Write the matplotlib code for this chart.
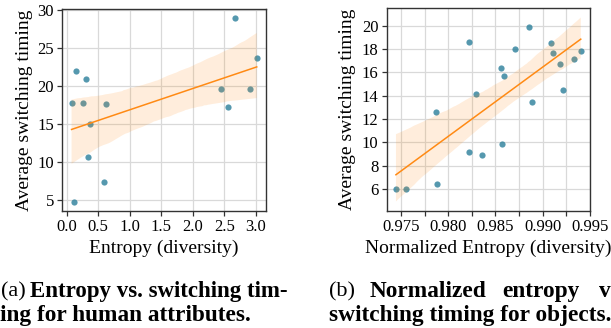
import numpy as np
import matplotlib
matplotlib.use("Agg")
import matplotlib.pyplot as plt
import seaborn as sns

# (a) human attributes: entropy vs. average switching timing
entropy_a = [0.079, 0.153, 0.31, 0.254, 0.623, 0.375, 0.333, 0.592, 0.116,
             2.678, 3.016, 2.445, 2.916, 2.556]
timing_a = [17.8, 22.0, 20.96, 17.8, 17.68, 15.06, 10.77, 7.37, 4.84,
            28.95, 23.75, 19.69, 19.69, 17.33]

# (b) objects: normalized entropy vs. average switching timing
entropy_b = [0.97447, 0.97553, 0.97883, 0.97873, 0.98225, 0.98225, 0.98359, 0.98295,
             0.98570, 0.98556, 0.98594, 0.98704, 0.98852, 0.98884, 0.99091, 0.99116,
             0.99183, 0.99215, 0.99338, 0.99405]
timing_b = [6.0, 6.05, 6.45, 12.63, 18.57, 9.18, 8.95, 14.18,
            9.84, 16.38, 15.73, 18.02, 19.91, 13.43, 18.54, 17.67,
            16.76, 14.49, 17.13, 17.80]

xticks_a = [0.0, 0.5, 1.0, 1.5, 2.0, 2.5, 3.0]
yticks_a = [5, 10, 15, 20, 25, 30]
xticks_b = [0.975, 0.9775, 0.980, 0.9825, 0.985, 0.9875, 0.990, 0.9925, 0.995]
xlabels_b = ["0.975", "", "0.980", "", "0.985", "", "0.990", "", "0.995"]
yticks_b = [6, 8, 10, 12, 14, 16, 18, 20]

teal = "#2a7f9a"
orange = "#ff8a14"
serif = ["Liberation Serif", "DejaVu Serif"]

plt.rcParams["font.family"] = serif

W, H = 611, 328
fig = plt.figure(figsize=(W / 100, H / 100), dpi=100)


def px_axes(l, t, r, b):
    return fig.add_axes([l / W, 1 - b / H, (r - l) / W, (b - t) / H])


def style(ax):
    ax.grid(True, color="#d9d9d9", lw=0.9)
    ax.set_axisbelow(True)
    for s in ax.spines.values():
        s.set_color("#333333")
        s.set_linewidth(1.0)
    ax.tick_params(direction="out", length=3.5, width=0.9, color="#333333",
                   labelsize=12, pad=2.5)


ax1 = px_axes(62.3, 9.3, 266, 210.7)
sns.regplot(x=np.array(entropy_a), y=np.array(timing_a), ax=ax1, seed=0,
            scatter_kws=dict(color=teal, s=20, linewidths=0),
            line_kws=dict(color=orange, lw=1.1))
ax1.set_xticks(xticks_a)
ax1.set_yticks(yticks_a)
ax1.set_xlabel("Entropy (diversity)", fontsize=14, labelpad=3)
ax1.set_ylabel("Average switching timing", fontsize=14, labelpad=3)
style(ax1)

ax2 = px_axes(386.7, 8.3, 590, 210.7)
sns.regplot(x=np.array(entropy_b), y=np.array(timing_b), ax=ax2, seed=0,
            scatter_kws=dict(color=teal, s=20, linewidths=0),
            line_kws=dict(color=orange, lw=1.1))
ax2.set_xticks(xticks_b)
ax2.set_xticklabels(xlabels_b)
ax2.set_yticks(yticks_b)
ax2.set_xlabel("Normalized Entropy (diversity)", fontsize=14, labelpad=3)
ax2.set_ylabel("Average switching timing", fontsize=14, labelpad=4)
style(ax2)


# captions (cropped from the paper page, so they run off the edges)
def cap(x, y, s, bold=True, size=16.8):
    fig.text(x / W, 1 - y / H, s, fontsize=size, va="baseline", ha="left",
             fontweight="bold" if bold else "normal")


cap(0.5, 296.7, "(a)", bold=False, size=16)
cap(29.8, 296.7, "Entropy vs. switching tim-", size=16.5)
cap(0.5, 320.7, "ing for human attributes.")
cap(328.7, 296.7, "(b)", bold=False, size=16)
cap(369.3, 296.7, "Normalized")
cap(502.7, 296.7, "entropy")
cap(599.3, 296.7, "vs.")
cap(328.7, 320.7, "switching timing for objects.")

fig.savefig("out.png", dpi=100)
